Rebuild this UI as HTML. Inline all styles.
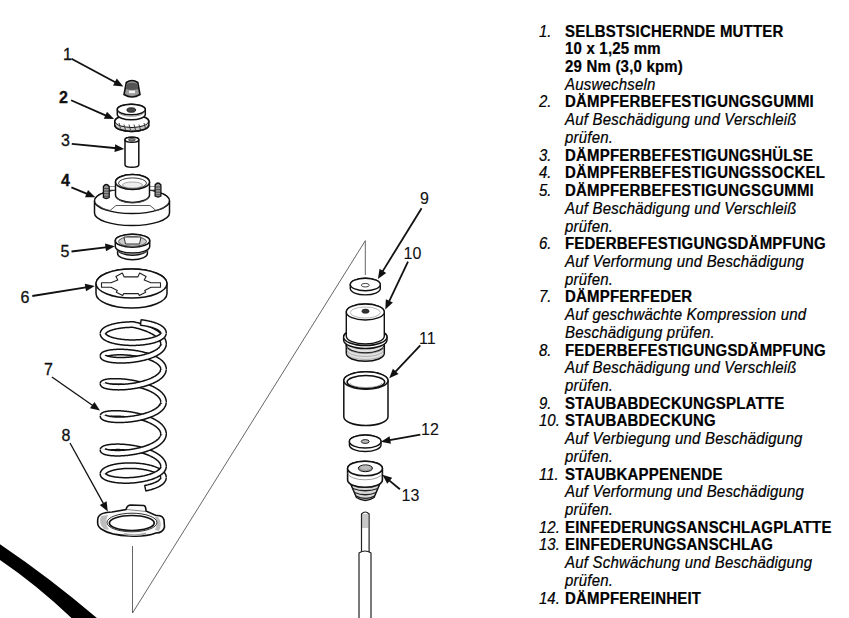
<!DOCTYPE html>
<html><head><meta charset="utf-8"><style>
html,body{margin:0;padding:0;background:#fff;}
body{width:849px;height:618px;position:relative;overflow:hidden;font-family:"Liberation Sans",sans-serif;}
svg{position:absolute;left:0;top:0;}
svg text{font-family:"Liberation Sans",sans-serif;}
#list{position:absolute;left:539px;top:22.6px;font-size:15px;line-height:17.72px;color:#000;-webkit-text-stroke:0.2px #000;}
.l{position:relative;height:17.72px;white-space:nowrap;padding-left:26px;transform:scaleY(1.04);transform-origin:0 14.06px;}
.n{position:absolute;left:0;top:0;font-style:italic;}
.b{font-weight:bold;letter-spacing:0.2px;}
.i{font-style:italic;letter-spacing:0.2px;}
</style></head><body>
<svg width="849" height="618" viewBox="0 0 849 618">
<path d="M0,544.2 Q50,578 96.9,618 L71.5,618 Q37,585 0,559.9 Z" fill="#000"/>
<path d="M365.3,275 L365.3,240.7 L132.5,613 L132.5,546" fill="none" stroke="#555" stroke-width="0.9"/>
<text x="63" y="60" font-size="16" font-weight="normal" fill="#111" stroke="#111" stroke-width="0.3">1</text>
<text x="59" y="103" font-size="16" font-weight="bold" fill="#111" stroke="#111" stroke-width="0.3">2</text>
<text x="61" y="146" font-size="16" font-weight="normal" fill="#111" stroke="#111" stroke-width="0.3">3</text>
<text x="61" y="185.6" font-size="16" font-weight="bold" fill="#111" stroke="#111" stroke-width="0.3">4</text>
<text x="60.5" y="256.8" font-size="16" font-weight="normal" fill="#111" stroke="#111" stroke-width="0.3">5</text>
<text x="20.5" y="303.4" font-size="16" font-weight="normal" fill="#111" stroke="#111" stroke-width="0.3">6</text>
<text x="44" y="375" font-size="16" font-weight="normal" fill="#111" stroke="#111" stroke-width="0.3">7</text>
<text x="61.5" y="441" font-size="16" font-weight="normal" fill="#111" stroke="#111" stroke-width="0.3">8</text>
<text x="420" y="204.3" font-size="16" font-weight="normal" fill="#111" stroke="#111" stroke-width="0.1">9</text>
<text x="403.5" y="258.6" font-size="16" font-weight="normal" fill="#111" stroke="#111" stroke-width="0.1">10</text>
<text x="419" y="344.4" font-size="16" font-weight="normal" fill="#111" stroke="#111" stroke-width="0.1">11</text>
<text x="421" y="435" font-size="16" font-weight="normal" fill="#111" stroke="#111" stroke-width="0.1">12</text>
<text x="401.5" y="501" font-size="16" font-weight="normal" fill="#111" stroke="#111" stroke-width="0.1">13</text>
<line x1="71.50" y1="58.80" x2="116.69" y2="82.96" stroke="#111" stroke-width="1.8"/>
<path d="M123.30,86.50 L113.08,85.46 L116.76,78.58 Z" fill="#111"/>
<line x1="71.10" y1="100.20" x2="107.23" y2="116.08" stroke="#111" stroke-width="1.8"/>
<path d="M114.10,119.10 L103.83,118.85 L106.97,111.71 Z" fill="#111"/>
<line x1="71.80" y1="143.90" x2="116.84" y2="148.27" stroke="#111" stroke-width="1.8"/>
<path d="M124.30,149.00 L114.47,151.96 L115.22,144.20 Z" fill="#111"/>
<line x1="71.40" y1="187.30" x2="88.37" y2="194.33" stroke="#111" stroke-width="1.8"/>
<path d="M95.30,197.20 L85.03,197.17 L88.02,189.96 Z" fill="#111"/>
<line x1="71.50" y1="251.50" x2="107.46" y2="247.11" stroke="#111" stroke-width="1.8"/>
<path d="M114.90,246.20 L105.94,251.22 L105.00,243.48 Z" fill="#111"/>
<line x1="32.30" y1="296.00" x2="87.39" y2="287.18" stroke="#111" stroke-width="1.8"/>
<path d="M94.80,286.00 L86.04,291.35 L84.80,283.65 Z" fill="#111"/>
<line x1="70.00" y1="443.00" x2="104.18" y2="504.93" stroke="#111" stroke-width="1.3"/>
<path d="M107.80,511.50 L99.80,505.07 L106.62,501.30 Z" fill="#111"/>
<line x1="421.60" y1="208.20" x2="381.84" y2="272.62" stroke="#111" stroke-width="1.8"/>
<path d="M377.90,279.00 L379.57,268.87 L386.21,272.96 Z" fill="#111"/>
<line x1="408.00" y1="261.60" x2="388.52" y2="302.63" stroke="#111" stroke-width="1.8"/>
<path d="M385.30,309.40 L385.85,299.15 L392.90,302.49 Z" fill="#111"/>
<line x1="420.30" y1="345.30" x2="394.34" y2="372.84" stroke="#111" stroke-width="1.8"/>
<path d="M389.20,378.30 L392.88,368.71 L398.55,374.06 Z" fill="#111"/>
<line x1="420.30" y1="434.60" x2="388.28" y2="440.37" stroke="#111" stroke-width="1.8"/>
<path d="M380.90,441.70 L389.56,436.18 L390.94,443.85 Z" fill="#111"/>
<line x1="399.90" y1="489.30" x2="388.18" y2="479.59" stroke="#111" stroke-width="1.8"/>
<path d="M382.40,474.80 L392.20,477.86 L387.23,483.86 Z" fill="#111"/>
<path d="M126.3,82.5 Q132,78.5 137.8,82.5 L140,94.5 Q132,99.5 124,94.5 Z" fill="#9a9a9a" stroke="#111" stroke-width="1.6"/>
<path d="M126.6,84 Q132,81.5 137.5,84 L138.3,89 Q132,91 125.8,89 Z" fill="#555"/>
<rect x="129" y="90.6" width="6" height="2.6" fill="#f2f2f2"/>
<path d="M114.80,121.50 L114.80,125.00 A17.00,6.40 0 0 0 148.80,125.00 L148.80,121.50 A17.00,6.40 0 0 0 114.80,121.50 Z" fill="#fff" stroke="#111" stroke-width="1.6"/>
<ellipse cx="131.80" cy="121.50" rx="17.00" ry="6.40" fill="#fff" stroke="#111" stroke-width="1.6"/>
<path d="M115.5,123 A16.5,5.8 0 0 0 148.1,123 L148.1,127 A16.5,5.8 0 0 1 115.5,127 Z" fill="#c8c8c8"/>
<line x1="119" y1="123.0" x2="120.5" y2="128.5" stroke="#333" stroke-width="0.9"/>
<line x1="124" y1="124.5" x2="125.5" y2="130" stroke="#333" stroke-width="0.9"/>
<line x1="129" y1="124.5" x2="130.5" y2="130" stroke="#333" stroke-width="0.9"/>
<line x1="134" y1="124.5" x2="135.5" y2="130" stroke="#333" stroke-width="0.9"/>
<line x1="139" y1="124.5" x2="140.5" y2="130" stroke="#333" stroke-width="0.9"/>
<line x1="144" y1="123.0" x2="145.5" y2="128.5" stroke="#333" stroke-width="0.9"/>
<path d="M114.80,125.00 A17.00,6.40 0 0 0 148.80,125.00" fill="none" stroke="#111" stroke-width="1.6"/>
<path d="M117.30,109.50 L117.30,114.50 A14.00,5.30 0 0 0 145.30,114.50 L145.30,109.50 A14.00,5.30 0 0 0 117.30,109.50 Z" fill="#fff" stroke="#111" stroke-width="1.5"/>
<ellipse cx="131.30" cy="109.50" rx="14.00" ry="5.30" fill="#fff" stroke="#111" stroke-width="1.5"/>
<path d="M118.30,111.50 A13.00,4.80 0 0 0 144.30,111.50" fill="none" stroke="#777" stroke-width="0.8"/>
<ellipse cx="131.30" cy="110.00" rx="4.40" ry="2.30" fill="#444" stroke="#111" stroke-width="0.8"/>
<path d="M125.00,139.80 L125.00,164.70 A6.90,2.50 0 0 0 138.80,164.70 L138.80,139.80 A6.90,2.50 0 0 0 125.00,139.80 Z" fill="#fff" stroke="#111" stroke-width="1.5"/>
<ellipse cx="131.90" cy="139.80" rx="6.90" ry="2.50" fill="#fff" stroke="#111" stroke-width="1.5"/>
<ellipse cx="131.90" cy="139.80" rx="3.50" ry="1.30" fill="#888" stroke="#111" stroke-width="0.6"/>
<path d="M94.50,201.00 L94.50,213.00 A37.50,12.50 0 0 0 169.50,213.00 L169.50,201.00 A37.50,12.50 0 0 0 94.50,201.00 Z" fill="#fff" stroke="#111" stroke-width="1.5"/>
<ellipse cx="132.00" cy="201.00" rx="37.50" ry="12.50" fill="#fff" stroke="#111" stroke-width="1.5"/>
<path d="M96,204 Q104,210 110,210.5 Q113,208 116,205.5 L150,205.5 Q153,208 156,210.5 Q162,210 168,204" fill="none" stroke="#444" stroke-width="0.9"/>
<rect x="108" y="186.5" width="50" height="3.5" fill="#fff" stroke="#666" stroke-width="0.7"/>
<path d="M115.50,182.00 L115.50,195.00 A17.00,7.50 0 0 0 149.50,195.00 L149.50,182.00 A17.00,7.50 0 0 0 115.50,182.00 Z" fill="#fff" stroke="#111" stroke-width="1.5"/>
<ellipse cx="132.50" cy="182.00" rx="17.00" ry="7.50" fill="#fff" stroke="#111" stroke-width="1.5"/>
<ellipse cx="132.50" cy="183.20" rx="14.00" ry="5.30" fill="none" stroke="#333" stroke-width="1.0"/>
<ellipse cx="132.50" cy="185.00" rx="10.00" ry="3.00" fill="#eee" stroke="#888" stroke-width="0.7"/>
<path d="M117.00,197.00 A15.50,6.00 0 0 0 148.00,197.00" fill="none" stroke="#555" stroke-width="0.8"/>
<path d="M103.39999999999999,186.5 Q106.3,182.5 109.2,186.5 L109.2,197.5 Q106.3,199.5 103.39999999999999,197.5 Z" fill="#999" stroke="#111" stroke-width="1.3"/>
<line x1="103.7" y1="188.5" x2="108.89999999999999" y2="188.5" stroke="#333" stroke-width="0.8"/>
<line x1="103.7" y1="191.1" x2="108.89999999999999" y2="191.1" stroke="#333" stroke-width="0.8"/>
<line x1="103.7" y1="193.7" x2="108.89999999999999" y2="193.7" stroke="#333" stroke-width="0.8"/>
<line x1="103.7" y1="196.3" x2="108.89999999999999" y2="196.3" stroke="#333" stroke-width="0.8"/>
<path d="M155.1,185 Q158,181 160.9,185 L160.9,196 Q158,198 155.1,196 Z" fill="#999" stroke="#111" stroke-width="1.3"/>
<line x1="155.4" y1="187.0" x2="160.6" y2="187.0" stroke="#333" stroke-width="0.8"/>
<line x1="155.4" y1="189.6" x2="160.6" y2="189.6" stroke="#333" stroke-width="0.8"/>
<line x1="155.4" y1="192.2" x2="160.6" y2="192.2" stroke="#333" stroke-width="0.8"/>
<line x1="155.4" y1="194.8" x2="160.6" y2="194.8" stroke="#333" stroke-width="0.8"/>
<path d="M117.60,249.00 L117.60,253.50 A14.90,6.20 0 0 0 147.40,253.50 L147.40,249.00 A14.90,6.20 0 0 0 117.60,249.00 Z" fill="#fff" stroke="#111" stroke-width="1.5"/>
<ellipse cx="132.50" cy="249.00" rx="14.90" ry="6.20" fill="#fff" stroke="#111" stroke-width="1.5"/>
<path d="M115.30,240.70 L115.30,246.50 A17.20,6.50 0 0 0 149.70,246.50 L149.70,240.70 A17.20,6.50 0 0 0 115.30,240.70 Z" fill="#fff" stroke="#111" stroke-width="1.5"/>
<ellipse cx="132.50" cy="240.70" rx="17.20" ry="6.50" fill="#fff" stroke="#111" stroke-width="1.5"/>
<ellipse cx="132.50" cy="241.50" rx="14.00" ry="4.80" fill="#ccc" stroke="#444" stroke-width="0.9"/>
<path d="M124,237 L141,237 L139.5,244 L125.5,244 Z" fill="#f4f4f4" stroke="#333" stroke-width="1"/>
<path d="M116.50,249.50 A16.00,4.50 0 0 0 148.50,249.50" fill="none" stroke="#666" stroke-width="0.8"/>
<path d="M96.00,283.50 L96.00,293.50 A35.50,14.50 0 0 0 167.00,293.50 L167.00,283.50 A35.50,14.50 0 0 0 96.00,283.50 Z" fill="#fff" stroke="#111" stroke-width="1.5"/>
<ellipse cx="131.50" cy="283.50" rx="35.50" ry="14.50" fill="#fff" stroke="#111" stroke-width="1.5"/>
<path d="M111.0,287.3 L101.5,287.3 L101.5,282.7 L111.0,282.7 L117.8,280.1 L115.9,276.4 L122.3,273.1 L124.2,276.9 L137.8,276.9 L139.7,273.1 L146.1,276.4 L144.2,280.1 L151.0,282.7 L160.5,282.7 L160.5,287.3 L151.0,287.3 L144.7,290.4 L145.7,292.3 L139.3,295.6 L138.3,293.6 L123.7,293.6 L122.7,295.6 L116.3,292.3 L117.3,290.4 Z" fill="#fff" stroke="#222" stroke-width="1.1" stroke-linejoin="round"/>
<path d="M103.00,333.53 L103.03,333.28 L103.07,333.03 L103.14,332.79 L103.23,332.54 L103.34,332.30 L103.47,332.06 L103.62,331.82 L103.80,331.58 L103.99,331.34 L104.21,331.10 L104.44,330.86 L104.70,330.63 L104.98,330.40 L105.28,330.17 L105.60,329.95 L105.94,329.72 L106.30,329.50 L106.67,329.28 L107.07,329.07 L107.49,328.86 L107.92,328.65 L108.37,328.45 L108.84,328.25 L109.33,328.05 L109.83,327.86 L110.36,327.67 L110.89,327.49 L111.45,327.31 L112.02,327.14 L112.60,326.97 L113.20,326.80 L113.82,326.64 L114.45,326.49 L115.09,326.34 L115.74,326.20 L116.41,326.06 L117.09,325.93 L117.78,325.80 L118.48,325.68 L119.20,325.56 L119.92,325.46 L120.65,325.35 L121.39,325.26 L122.14,325.17 L122.90,325.08 L123.67,325.00 L124.44,324.93 L125.22,324.87 L126.00,324.81 L126.79,324.76 L127.59,324.71 L128.39,324.67 L129.19,324.64 L129.99,324.61 L130.80,324.60 L131.61,324.58 L132.42,324.58 L133.23,324.58 L134.04,324.75 L134.85,324.93 L135.66,325.12 L136.47,325.31 L137.27,325.51 L138.07,325.72 L138.87,325.93 L139.67,326.15 L140.46,326.38 L141.24,326.61 L142.02,326.85 L142.79,327.10 L143.56,327.35 L144.32,327.61 L145.07,327.88 L145.81,328.15 L146.54,328.43 L147.27,328.71 L147.98,329.00 L148.68,329.30 L149.38,329.60 L150.06,329.91 L150.72,330.22 L151.38,330.54 L152.02,330.86 L152.65,331.19 L153.27,331.53 L153.87,331.87 L154.45,332.21 L155.02,332.56 L155.58,332.92 L156.12,333.28 L156.64,333.64 L157.15,334.01 L157.63,334.38 L158.10,334.76 L158.56,335.14 L158.99,335.52 L159.41,335.91 L159.81,336.30 L160.19,336.70 L160.55,337.09 L160.88,337.49 L161.20,337.90 L161.50,338.30 L161.78,338.71 L162.04,339.12 L162.28,339.53 L162.50,339.95 L162.69,340.36 L162.87,340.78 L163.02,341.20 L163.16,341.62 L163.27,342.04 L163.36,342.46 L163.43,342.89 L163.47,343.31 L163.50,343.73 L163.50,344.13" fill="none" stroke="#111" stroke-width="7.0"/>
<path d="M103.02,334.02 L103.00,333.53 L103.03,333.28 L103.07,333.03 L103.14,332.79 L103.23,332.54 L103.34,332.30 L103.47,332.06 L103.62,331.82 L103.80,331.58 L103.99,331.34 L104.21,331.10 L104.44,330.86 L104.70,330.63 L104.98,330.40 L105.28,330.17 L105.60,329.95 L105.94,329.72 L106.30,329.50 L106.67,329.28 L107.07,329.07 L107.49,328.86 L107.92,328.65 L108.37,328.45 L108.84,328.25 L109.33,328.05 L109.83,327.86 L110.36,327.67 L110.89,327.49 L111.45,327.31 L112.02,327.14 L112.60,326.97 L113.20,326.80 L113.82,326.64 L114.45,326.49 L115.09,326.34 L115.74,326.20 L116.41,326.06 L117.09,325.93 L117.78,325.80 L118.48,325.68 L119.20,325.56 L119.92,325.46 L120.65,325.35 L121.39,325.26 L122.14,325.17 L122.90,325.08 L123.67,325.00 L124.44,324.93 L125.22,324.87 L126.00,324.81 L126.79,324.76 L127.59,324.71 L128.39,324.67 L129.19,324.64 L129.99,324.61 L130.80,324.60 L131.61,324.58 L132.42,324.58 L133.23,324.58 L134.04,324.75 L134.85,324.93 L135.66,325.12 L136.47,325.31 L137.27,325.51 L138.07,325.72 L138.87,325.93 L139.67,326.15 L140.46,326.38 L141.24,326.61 L142.02,326.85 L142.79,327.10 L143.56,327.35 L144.32,327.61 L145.07,327.88 L145.81,328.15 L146.54,328.43 L147.27,328.71 L147.98,329.00 L148.68,329.30 L149.38,329.60 L150.06,329.91 L150.72,330.22 L151.38,330.54 L152.02,330.86 L152.65,331.19 L153.27,331.53 L153.87,331.87 L154.45,332.21 L155.02,332.56 L155.58,332.92 L156.12,333.28 L156.64,333.64 L157.15,334.01 L157.63,334.38 L158.10,334.76 L158.56,335.14 L158.99,335.52 L159.41,335.91 L159.81,336.30 L160.19,336.70 L160.55,337.09 L160.88,337.49 L161.20,337.90 L161.50,338.30 L161.78,338.71 L162.04,339.12 L162.28,339.53 L162.50,339.95 L162.69,340.36 L162.87,340.78 L163.02,341.20 L163.16,341.62 L163.27,342.04 L163.36,342.46 L163.43,342.89 L163.47,343.31 L163.50,343.73 L163.50,344.13 L163.44,344.84" fill="none" stroke="#fff" stroke-width="4.0"/>
<path d="M103.00,355.98 L103.01,355.83 L103.05,355.69 L103.11,355.54 L103.19,355.40 L103.29,355.26 L103.41,355.12 L103.56,354.98 L103.72,354.84 L103.91,354.70 L104.12,354.56 L104.35,354.43 L104.60,354.30 L104.87,354.17 L105.16,354.04 L105.47,353.92 L105.80,353.79 L106.15,353.67 L106.52,353.56 L106.91,353.44 L107.32,353.33 L107.74,353.23 L108.19,353.13 L108.65,353.03 L109.13,352.93 L109.63,352.84 L110.14,352.75 L110.68,352.67 L111.22,352.59 L111.79,352.52 L112.37,352.45 L112.96,352.39 L113.57,352.33 L114.19,352.28 L114.83,352.23 L115.48,352.19 L116.14,352.15 L116.81,352.12 L117.50,352.09 L118.20,352.07 L118.91,352.06 L119.63,352.05 L120.36,352.05 L121.09,352.06 L121.84,352.07 L122.60,352.08 L123.36,352.11 L124.13,352.14 L124.90,352.17 L125.69,352.22 L126.47,352.27 L127.27,352.32 L128.06,352.39 L128.86,352.46 L129.67,352.53 L130.47,352.62 L131.28,352.71 L132.09,352.80 L132.90,352.91 L133.71,353.02 L134.52,353.14 L135.33,353.26 L136.14,353.39 L136.95,353.53 L137.75,353.68 L138.55,353.83 L139.35,353.99 L140.14,354.15 L140.93,354.32 L141.71,354.50 L142.48,354.69 L143.25,354.88 L144.01,355.08 L144.77,355.28 L145.51,355.49 L146.25,355.71 L146.98,355.94 L147.70,356.16 L148.40,356.40 L149.10,356.64 L149.78,356.89 L150.46,357.14 L151.12,357.40 L151.76,357.67 L152.40,357.94 L153.02,358.21 L153.63,358.49 L154.22,358.78 L154.80,359.07 L155.36,359.36 L155.90,359.66 L156.43,359.97 L156.94,360.28 L157.44,360.59 L157.92,360.91 L158.38,361.23 L158.82,361.56 L159.24,361.89 L159.65,362.22 L160.04,362.56 L160.40,362.89 L160.75,363.24 L161.08,363.58 L161.39,363.93 L161.67,364.28 L161.94,364.63 L162.19,364.99 L162.41,365.35 L162.62,365.70 L162.80,366.07 L162.96,366.43 L163.11,366.79 L163.23,367.16 L163.32,367.52 L163.40,367.89 L163.46,368.25 L163.49,368.62 L163.50,368.99 L163.49,369.37" fill="none" stroke="#111" stroke-width="7.0"/>
<path d="M103.04,356.28 L103.00,355.98 L103.01,355.83 L103.05,355.69 L103.11,355.54 L103.19,355.40 L103.29,355.26 L103.41,355.12 L103.56,354.98 L103.72,354.84 L103.91,354.70 L104.12,354.56 L104.35,354.43 L104.60,354.30 L104.87,354.17 L105.16,354.04 L105.47,353.92 L105.80,353.79 L106.15,353.67 L106.52,353.56 L106.91,353.44 L107.32,353.33 L107.74,353.23 L108.19,353.13 L108.65,353.03 L109.13,352.93 L109.63,352.84 L110.14,352.75 L110.68,352.67 L111.22,352.59 L111.79,352.52 L112.37,352.45 L112.96,352.39 L113.57,352.33 L114.19,352.28 L114.83,352.23 L115.48,352.19 L116.14,352.15 L116.81,352.12 L117.50,352.09 L118.20,352.07 L118.91,352.06 L119.63,352.05 L120.36,352.05 L121.09,352.06 L121.84,352.07 L122.60,352.08 L123.36,352.11 L124.13,352.14 L124.90,352.17 L125.69,352.22 L126.47,352.27 L127.27,352.32 L128.06,352.39 L128.86,352.46 L129.67,352.53 L130.47,352.62 L131.28,352.71 L132.09,352.80 L132.90,352.91 L133.71,353.02 L134.52,353.14 L135.33,353.26 L136.14,353.39 L136.95,353.53 L137.75,353.68 L138.55,353.83 L139.35,353.99 L140.14,354.15 L140.93,354.32 L141.71,354.50 L142.48,354.69 L143.25,354.88 L144.01,355.08 L144.77,355.28 L145.51,355.49 L146.25,355.71 L146.98,355.94 L147.70,356.16 L148.40,356.40 L149.10,356.64 L149.78,356.89 L150.46,357.14 L151.12,357.40 L151.76,357.67 L152.40,357.94 L153.02,358.21 L153.63,358.49 L154.22,358.78 L154.80,359.07 L155.36,359.36 L155.90,359.66 L156.43,359.97 L156.94,360.28 L157.44,360.59 L157.92,360.91 L158.38,361.23 L158.82,361.56 L159.24,361.89 L159.65,362.22 L160.04,362.56 L160.40,362.89 L160.75,363.24 L161.08,363.58 L161.39,363.93 L161.67,364.28 L161.94,364.63 L162.19,364.99 L162.41,365.35 L162.62,365.70 L162.80,366.07 L162.96,366.43 L163.11,366.79 L163.23,367.16 L163.32,367.52 L163.40,367.89 L163.46,368.25 L163.49,368.62 L163.50,368.99 L163.49,369.37 L163.40,370.13" fill="none" stroke="#fff" stroke-width="4.0"/>
<path d="M103.01,383.62 L103.03,383.52 L103.08,383.42 L103.15,383.32 L103.25,383.22 L103.36,383.12 L103.50,383.02 L103.65,382.92 L103.83,382.82 L104.03,382.73 L104.25,382.64 L104.49,382.54 L104.76,382.46 L105.04,382.37 L105.34,382.29 L105.66,382.20 L106.01,382.13 L106.37,382.05 L106.75,381.98 L107.15,381.91 L107.57,381.84 L108.01,381.78 L108.46,381.72 L108.94,381.67 L109.43,381.62 L109.94,381.57 L110.46,381.53 L111.00,381.50 L111.56,381.46 L112.13,381.44 L112.72,381.41 L113.32,381.40 L113.94,381.38 L114.57,381.38 L115.22,381.38 L115.87,381.38 L116.54,381.39 L117.22,381.41 L117.92,381.43 L118.62,381.45 L119.34,381.49 L120.06,381.53 L120.80,381.57 L121.54,381.63 L122.29,381.68 L123.05,381.75 L123.82,381.82 L124.59,381.90 L125.37,381.98 L126.16,382.08 L126.95,382.17 L127.74,382.28 L128.54,382.39 L129.34,382.51 L130.15,382.63 L130.96,382.77 L131.77,382.91 L132.58,383.05 L133.39,383.21 L134.20,383.37 L135.01,383.53 L135.82,383.71 L136.62,383.89 L137.43,384.08 L138.23,384.27 L139.03,384.47 L139.82,384.68 L140.61,384.90 L141.40,385.12 L142.17,385.35 L142.94,385.58 L143.71,385.83 L144.47,386.07 L145.21,386.33 L145.96,386.59 L146.69,386.86 L147.41,387.13 L148.12,387.41 L148.82,387.70 L149.51,387.99 L150.19,388.29 L150.85,388.59 L151.51,388.90 L152.15,389.22 L152.77,389.54 L153.38,389.86 L153.98,390.20 L154.57,390.53 L155.13,390.87 L155.68,391.22 L156.22,391.57 L156.74,391.93 L157.24,392.28 L157.73,392.65 L158.20,393.02 L158.64,393.39 L159.08,393.76 L159.49,394.14 L159.88,394.53 L160.26,394.91 L160.61,395.30 L160.95,395.69 L161.27,396.09 L161.56,396.49 L161.84,396.89 L162.09,397.29 L162.33,397.70 L162.54,398.10 L162.73,398.51 L162.90,398.92 L163.05,399.33 L163.18,399.75 L163.29,400.16 L163.37,400.57 L163.44,400.99 L163.48,401.40 L163.50,401.82 L163.50,402.22" fill="none" stroke="#111" stroke-width="7.0"/>
<path d="M103.02,383.86 L103.01,383.62 L103.03,383.52 L103.08,383.42 L103.15,383.32 L103.25,383.22 L103.36,383.12 L103.50,383.02 L103.65,382.92 L103.83,382.82 L104.03,382.73 L104.25,382.64 L104.49,382.54 L104.76,382.46 L105.04,382.37 L105.34,382.29 L105.66,382.20 L106.01,382.13 L106.37,382.05 L106.75,381.98 L107.15,381.91 L107.57,381.84 L108.01,381.78 L108.46,381.72 L108.94,381.67 L109.43,381.62 L109.94,381.57 L110.46,381.53 L111.00,381.50 L111.56,381.46 L112.13,381.44 L112.72,381.41 L113.32,381.40 L113.94,381.38 L114.57,381.38 L115.22,381.38 L115.87,381.38 L116.54,381.39 L117.22,381.41 L117.92,381.43 L118.62,381.45 L119.34,381.49 L120.06,381.53 L120.80,381.57 L121.54,381.63 L122.29,381.68 L123.05,381.75 L123.82,381.82 L124.59,381.90 L125.37,381.98 L126.16,382.08 L126.95,382.17 L127.74,382.28 L128.54,382.39 L129.34,382.51 L130.15,382.63 L130.96,382.77 L131.77,382.91 L132.58,383.05 L133.39,383.21 L134.20,383.37 L135.01,383.53 L135.82,383.71 L136.62,383.89 L137.43,384.08 L138.23,384.27 L139.03,384.47 L139.82,384.68 L140.61,384.90 L141.40,385.12 L142.17,385.35 L142.94,385.58 L143.71,385.83 L144.47,386.07 L145.21,386.33 L145.96,386.59 L146.69,386.86 L147.41,387.13 L148.12,387.41 L148.82,387.70 L149.51,387.99 L150.19,388.29 L150.85,388.59 L151.51,388.90 L152.15,389.22 L152.77,389.54 L153.38,389.86 L153.98,390.20 L154.57,390.53 L155.13,390.87 L155.68,391.22 L156.22,391.57 L156.74,391.93 L157.24,392.28 L157.73,392.65 L158.20,393.02 L158.64,393.39 L159.08,393.76 L159.49,394.14 L159.88,394.53 L160.26,394.91 L160.61,395.30 L160.95,395.69 L161.27,396.09 L161.56,396.49 L161.84,396.89 L162.09,397.29 L162.33,397.70 L162.54,398.10 L162.73,398.51 L162.90,398.92 L163.05,399.33 L163.18,399.75 L163.29,400.16 L163.37,400.57 L163.44,400.99 L163.48,401.40 L163.50,401.82 L163.50,402.22 L163.43,402.97" fill="none" stroke="#fff" stroke-width="4.0"/>
<path d="M103.00,415.96 L103.02,415.85 L103.06,415.74 L103.12,415.63 L103.21,415.53 L103.31,415.42 L103.44,415.31 L103.59,415.21 L103.76,415.11 L103.95,415.00 L104.16,414.90 L104.39,414.80 L104.65,414.71 L104.92,414.61 L105.22,414.52 L105.53,414.43 L105.87,414.35 L106.22,414.27 L106.59,414.19 L106.99,414.11 L107.40,414.04 L107.83,413.97 L108.28,413.90 L108.74,413.84 L109.23,413.78 L109.73,413.73 L110.25,413.68 L110.78,413.63 L111.33,413.59 L111.90,413.56 L112.48,413.53 L113.08,413.50 L113.69,413.48 L114.32,413.47 L114.95,413.46 L115.61,413.46 L116.27,413.46 L116.95,413.47 L117.64,413.48 L118.34,413.50 L119.05,413.53 L119.77,413.56 L120.50,413.60 L121.24,413.64 L121.99,413.69 L122.74,413.75 L123.51,413.81 L124.28,413.89 L125.06,413.96 L125.84,414.05 L126.63,414.14 L127.42,414.24 L128.22,414.34 L129.02,414.45 L129.83,414.57 L130.63,414.70 L131.44,414.83 L132.25,414.97 L133.06,415.12 L133.87,415.27 L134.68,415.43 L135.49,415.60 L136.30,415.78 L137.11,415.96 L137.91,416.15 L138.71,416.35 L139.50,416.55 L140.29,416.76 L141.08,416.98 L141.86,417.20 L142.64,417.43 L143.40,417.67 L144.16,417.91 L144.91,418.16 L145.66,418.42 L146.39,418.68 L147.12,418.95 L147.83,419.23 L148.54,419.51 L149.23,419.80 L149.92,420.09 L150.59,420.39 L151.25,420.70 L151.89,421.01 L152.52,421.32 L153.14,421.65 L153.74,421.98 L154.33,422.31 L154.91,422.65 L155.47,422.99 L156.01,423.34 L156.53,423.69 L157.04,424.05 L157.53,424.41 L158.01,424.77 L158.47,425.14 L158.91,425.52 L159.33,425.90 L159.73,426.28 L160.11,426.66 L160.47,427.05 L160.82,427.44 L161.14,427.83 L161.44,428.23 L161.73,428.63 L161.99,429.03 L162.23,429.43 L162.46,429.84 L162.66,430.25 L162.84,430.66 L162.99,431.07 L163.13,431.48 L163.25,431.89 L163.34,432.31 L163.41,432.72 L163.46,433.14 L163.49,433.55 L163.50,433.97" fill="none" stroke="#111" stroke-width="7.0"/>
<path d="M103.03,416.23 L103.00,415.96 L103.02,415.85 L103.06,415.74 L103.12,415.63 L103.21,415.53 L103.31,415.42 L103.44,415.31 L103.59,415.21 L103.76,415.11 L103.95,415.00 L104.16,414.90 L104.39,414.80 L104.65,414.71 L104.92,414.61 L105.22,414.52 L105.53,414.43 L105.87,414.35 L106.22,414.27 L106.59,414.19 L106.99,414.11 L107.40,414.04 L107.83,413.97 L108.28,413.90 L108.74,413.84 L109.23,413.78 L109.73,413.73 L110.25,413.68 L110.78,413.63 L111.33,413.59 L111.90,413.56 L112.48,413.53 L113.08,413.50 L113.69,413.48 L114.32,413.47 L114.95,413.46 L115.61,413.46 L116.27,413.46 L116.95,413.47 L117.64,413.48 L118.34,413.50 L119.05,413.53 L119.77,413.56 L120.50,413.60 L121.24,413.64 L121.99,413.69 L122.74,413.75 L123.51,413.81 L124.28,413.89 L125.06,413.96 L125.84,414.05 L126.63,414.14 L127.42,414.24 L128.22,414.34 L129.02,414.45 L129.83,414.57 L130.63,414.70 L131.44,414.83 L132.25,414.97 L133.06,415.12 L133.87,415.27 L134.68,415.43 L135.49,415.60 L136.30,415.78 L137.11,415.96 L137.91,416.15 L138.71,416.35 L139.50,416.55 L140.29,416.76 L141.08,416.98 L141.86,417.20 L142.64,417.43 L143.40,417.67 L144.16,417.91 L144.91,418.16 L145.66,418.42 L146.39,418.68 L147.12,418.95 L147.83,419.23 L148.54,419.51 L149.23,419.80 L149.92,420.09 L150.59,420.39 L151.25,420.70 L151.89,421.01 L152.52,421.32 L153.14,421.65 L153.74,421.98 L154.33,422.31 L154.91,422.65 L155.47,422.99 L156.01,423.34 L156.53,423.69 L157.04,424.05 L157.53,424.41 L158.01,424.77 L158.47,425.14 L158.91,425.52 L159.33,425.90 L159.73,426.28 L160.11,426.66 L160.47,427.05 L160.82,427.44 L161.14,427.83 L161.44,428.23 L161.73,428.63 L161.99,429.03 L162.23,429.43 L162.46,429.84 L162.66,430.25 L162.84,430.66 L162.99,431.07 L163.13,431.48 L163.25,431.89 L163.34,432.31 L163.41,432.72 L163.46,433.14 L163.49,433.55 L163.50,433.97 L163.45,434.77" fill="none" stroke="#fff" stroke-width="4.0"/>
<path d="M103.01,449.88 L103.04,449.75 L103.10,449.63 L103.17,449.50 L103.27,449.38 L103.39,449.25 L103.53,449.13 L103.69,449.01 L103.87,448.89 L104.07,448.77 L104.30,448.66 L104.54,448.54 L104.81,448.43 L105.10,448.32 L105.40,448.22 L105.73,448.11 L106.08,448.01 L106.44,447.91 L106.83,447.82 L107.23,447.73 L107.65,447.64 L108.09,447.56 L108.55,447.48 L109.03,447.40 L109.53,447.33 L110.04,447.26 L110.57,447.20 L111.11,447.14 L111.67,447.09 L112.25,447.04 L112.84,447.00 L113.44,446.96 L114.06,446.93 L114.70,446.90 L115.34,446.88 L116.00,446.86 L116.68,446.85 L117.36,446.85 L118.05,446.85 L118.76,446.86 L119.48,446.87 L120.21,446.89 L120.94,446.92 L121.69,446.96 L122.44,447.00 L123.20,447.04 L123.97,447.10 L124.74,447.16 L125.53,447.22 L126.31,447.30 L127.10,447.38 L127.90,447.47 L128.70,447.56 L129.50,447.66 L130.31,447.77 L131.12,447.89 L131.93,448.01 L132.74,448.14 L133.55,448.28 L134.36,448.43 L135.17,448.58 L135.98,448.74 L136.78,448.90 L137.59,449.08 L138.39,449.26 L139.18,449.44 L139.98,449.64 L140.77,449.84 L141.55,450.05 L142.32,450.26 L143.09,450.48 L143.86,450.71 L144.61,450.95 L145.36,451.19 L146.10,451.44 L146.83,451.69 L147.55,451.95 L148.26,452.22 L148.96,452.49 L149.64,452.77 L150.32,453.06 L150.98,453.35 L151.63,453.65 L152.27,453.95 L152.89,454.26 L153.50,454.58 L154.10,454.90 L154.68,455.22 L155.24,455.55 L155.79,455.89 L156.32,456.23 L156.84,456.57 L157.34,456.92 L157.82,457.27 L158.28,457.63 L158.73,457.99 L159.16,458.35 L159.57,458.72 L159.96,459.10 L160.33,459.47 L160.68,459.85 L161.01,460.23 L161.32,460.62 L161.62,461.01 L161.89,461.40 L162.14,461.79 L162.37,462.18 L162.58,462.58 L162.77,462.98 L162.93,463.38 L163.08,463.78 L163.20,464.18 L163.31,464.58 L163.39,464.99 L163.45,465.39 L163.48,465.80 L163.50,466.21 L163.49,466.55" fill="none" stroke="#111" stroke-width="7.0"/>
<path d="M103.01,450.13 L103.01,449.88 L103.04,449.75 L103.10,449.63 L103.17,449.50 L103.27,449.38 L103.39,449.25 L103.53,449.13 L103.69,449.01 L103.87,448.89 L104.07,448.77 L104.30,448.66 L104.54,448.54 L104.81,448.43 L105.10,448.32 L105.40,448.22 L105.73,448.11 L106.08,448.01 L106.44,447.91 L106.83,447.82 L107.23,447.73 L107.65,447.64 L108.09,447.56 L108.55,447.48 L109.03,447.40 L109.53,447.33 L110.04,447.26 L110.57,447.20 L111.11,447.14 L111.67,447.09 L112.25,447.04 L112.84,447.00 L113.44,446.96 L114.06,446.93 L114.70,446.90 L115.34,446.88 L116.00,446.86 L116.68,446.85 L117.36,446.85 L118.05,446.85 L118.76,446.86 L119.48,446.87 L120.21,446.89 L120.94,446.92 L121.69,446.96 L122.44,447.00 L123.20,447.04 L123.97,447.10 L124.74,447.16 L125.53,447.22 L126.31,447.30 L127.10,447.38 L127.90,447.47 L128.70,447.56 L129.50,447.66 L130.31,447.77 L131.12,447.89 L131.93,448.01 L132.74,448.14 L133.55,448.28 L134.36,448.43 L135.17,448.58 L135.98,448.74 L136.78,448.90 L137.59,449.08 L138.39,449.26 L139.18,449.44 L139.98,449.64 L140.77,449.84 L141.55,450.05 L142.32,450.26 L143.09,450.48 L143.86,450.71 L144.61,450.95 L145.36,451.19 L146.10,451.44 L146.83,451.69 L147.55,451.95 L148.26,452.22 L148.96,452.49 L149.64,452.77 L150.32,453.06 L150.98,453.35 L151.63,453.65 L152.27,453.95 L152.89,454.26 L153.50,454.58 L154.10,454.90 L154.68,455.22 L155.24,455.55 L155.79,455.89 L156.32,456.23 L156.84,456.57 L157.34,456.92 L157.82,457.27 L158.28,457.63 L158.73,457.99 L159.16,458.35 L159.57,458.72 L159.96,459.10 L160.33,459.47 L160.68,459.85 L161.01,460.23 L161.32,460.62 L161.62,461.01 L161.89,461.40 L162.14,461.79 L162.37,462.18 L162.58,462.58 L162.77,462.98 L162.93,463.38 L163.08,463.78 L163.20,464.18 L163.31,464.58 L163.39,464.99 L163.45,465.39 L163.48,465.80 L163.50,466.21 L163.49,466.55 L163.42,467.22" fill="none" stroke="#fff" stroke-width="4.0"/>
<path d="M103.00,473.87 L103.03,473.63 L103.07,473.39 L103.14,473.15 L103.23,472.91 L103.34,472.68 L103.47,472.44 L103.62,472.21 L103.79,471.98 L103.99,471.74 L104.21,471.52 L104.44,471.29 L104.70,471.06 L104.98,470.84 L105.28,470.62 L105.60,470.40 L105.93,470.19 L106.29,469.98 L106.67,469.77 L107.07,469.56 L107.48,469.36 L107.91,469.17 L108.37,468.97 L108.84,468.78 L109.32,468.60 L109.83,468.42 L110.35,468.24 L110.89,468.07 L111.44,467.90 L112.01,467.74 L112.60,467.58 L113.20,467.43 L113.81,467.29 L114.44,467.15 L115.08,467.01 L115.74,466.88 L116.40,466.76 L117.08,466.64 L117.77,466.53 L118.48,466.42 L119.19,466.33 L119.91,466.23 L120.64,466.15 L121.39,466.07 L122.14,465.99 L122.89,465.93 L123.66,465.87 L124.43,465.82 L125.21,465.77 L126.00,465.73 L126.78,465.70 L127.58,465.68 L128.38,465.66 L129.18,465.65 L129.98,465.64 L130.79,465.65 L131.60,465.66 L132.41,465.68 L133.22,465.70 L134.03,465.74 L134.84,465.78 L135.65,465.82 L136.46,465.88 L137.26,465.94 L138.07,466.01 L138.86,466.08 L139.66,466.17 L140.45,466.26 L141.23,466.35 L142.01,466.46 L142.79,466.57 L143.55,466.69 L144.31,466.81 L145.06,466.94 L145.80,467.08 L146.54,467.22 L147.26,467.37 L147.97,467.53 L148.68,467.70 L149.37,467.87 L150.05,468.04 L150.72,468.22 L151.37,468.41 L152.02,468.61 L152.64,468.81 L153.26,469.01 L153.86,469.22 L154.45,469.44 L155.02,469.66 L155.57,469.88 L156.11,470.12 L156.63,470.35 L157.14,470.59 L157.63,470.84 L158.10,471.09 L158.55,471.34 L158.99,471.60 L159.41,471.86 L159.80,472.12 L160.18,472.39 L160.54,472.66 L160.88,472.94 L161.20,473.21 L161.50,473.49 L161.78,473.78 L162.04,474.06 L162.28,474.35 L162.50,474.64 L162.69,474.93 L162.87,475.22 L163.02,475.52 L163.16,475.82 L163.27,476.11 L163.36,476.41 L163.42,476.71 L163.47,477.01 L163.50,477.31 L163.50,477.61" fill="none" stroke="#111" stroke-width="7.0"/>
<path d="M103.02,474.29 L103.00,473.87 L103.03,473.63 L103.07,473.39 L103.14,473.15 L103.23,472.91 L103.34,472.68 L103.47,472.44 L103.62,472.21 L103.79,471.98 L103.99,471.74 L104.21,471.52 L104.44,471.29 L104.70,471.06 L104.98,470.84 L105.28,470.62 L105.60,470.40 L105.93,470.19 L106.29,469.98 L106.67,469.77 L107.07,469.56 L107.48,469.36 L107.91,469.17 L108.37,468.97 L108.84,468.78 L109.32,468.60 L109.83,468.42 L110.35,468.24 L110.89,468.07 L111.44,467.90 L112.01,467.74 L112.60,467.58 L113.20,467.43 L113.81,467.29 L114.44,467.15 L115.08,467.01 L115.74,466.88 L116.40,466.76 L117.08,466.64 L117.77,466.53 L118.48,466.42 L119.19,466.33 L119.91,466.23 L120.64,466.15 L121.39,466.07 L122.14,465.99 L122.89,465.93 L123.66,465.87 L124.43,465.82 L125.21,465.77 L126.00,465.73 L126.78,465.70 L127.58,465.68 L128.38,465.66 L129.18,465.65 L129.98,465.64 L130.79,465.65 L131.60,465.66 L132.41,465.68 L133.22,465.70 L134.03,465.74 L134.84,465.78 L135.65,465.82 L136.46,465.88 L137.26,465.94 L138.07,466.01 L138.86,466.08 L139.66,466.17 L140.45,466.26 L141.23,466.35 L142.01,466.46 L142.79,466.57 L143.55,466.69 L144.31,466.81 L145.06,466.94 L145.80,467.08 L146.54,467.22 L147.26,467.37 L147.97,467.53 L148.68,467.70 L149.37,467.87 L150.05,468.04 L150.72,468.22 L151.37,468.41 L152.02,468.61 L152.64,468.81 L153.26,469.01 L153.86,469.22 L154.45,469.44 L155.02,469.66 L155.57,469.88 L156.11,470.12 L156.63,470.35 L157.14,470.59 L157.63,470.84 L158.10,471.09 L158.55,471.34 L158.99,471.60 L159.41,471.86 L159.80,472.12 L160.18,472.39 L160.54,472.66 L160.88,472.94 L161.20,473.21 L161.50,473.49 L161.78,473.78 L162.04,474.06 L162.28,474.35 L162.50,474.64 L162.69,474.93 L162.87,475.22 L163.02,475.52 L163.16,475.82 L163.27,476.11 L163.36,476.41 L163.42,476.71 L163.47,477.01 L163.50,477.31 L163.50,477.61 L163.44,478.21" fill="none" stroke="#fff" stroke-width="4.0"/>
<path d="M163.49,333.20 L163.47,333.45 L163.42,333.71 L163.35,333.96 L163.25,334.22 L163.14,334.47 L163.00,334.72 L162.85,334.97 L162.67,335.22 L162.47,335.47 L162.25,335.72 L162.01,335.96 L161.74,336.21 L161.46,336.45 L161.16,336.69 L160.84,336.92 L160.49,337.15 L160.13,337.38 L159.75,337.61 L159.35,337.83 L158.93,338.05 L158.49,338.27 L158.04,338.48 L157.56,338.69 L157.07,338.90 L156.56,339.10 L156.04,339.30 L155.50,339.49 L154.94,339.68 L154.37,339.86 L153.78,340.04 L153.17,340.21 L152.56,340.38 L151.93,340.54 L151.28,340.70 L150.62,340.85 L149.95,341.00 L149.27,341.14 L148.58,341.28 L147.87,341.41 L147.16,341.53 L146.43,341.65 L145.70,341.76 L144.96,341.87 L144.21,341.97 L143.45,342.06 L142.68,342.15 L141.90,342.23 L141.12,342.31 L140.34,342.38 L139.55,342.44 L138.75,342.49 L137.95,342.54 L137.15,342.58 L136.35,342.62 L135.54,342.65 L134.73,342.67 L133.92,342.68 L133.11,342.69 L132.30,342.69 L131.49,342.69 L130.68,342.68 L129.87,342.66 L129.07,342.63 L128.27,342.60 L127.47,342.56 L126.67,342.52 L125.89,342.47 L125.10,342.41 L124.32,342.34 L123.55,342.27 L122.79,342.19 L122.03,342.11 L121.28,342.02 L120.54,341.92 L119.81,341.82 L119.09,341.71 L118.38,341.60 L117.68,341.48 L116.99,341.35 L116.31,341.22 L115.64,341.08 L114.99,340.94 L114.35,340.79 L113.72,340.64 L113.11,340.48 L112.51,340.32 L111.93,340.15 L111.36,339.98 L110.81,339.80 L110.28,339.62 L109.76,339.43 L109.26,339.24 L108.77,339.04 L108.30,338.84 L107.85,338.64 L107.42,338.43 L107.01,338.22 L106.62,338.01 L106.24,337.79 L105.88,337.57 L105.55,337.35 L105.23,337.12 L104.94,336.89 L104.66,336.66 L104.41,336.43 L104.17,336.20 L103.96,335.96 L103.77,335.72 L103.60,335.48 L103.45,335.24 L103.32,335.00 L103.21,334.75 L103.13,334.51 L103.06,334.26 L103.02,334.02 L103.00,333.77 L103.00,333.53" fill="none" stroke="#111" stroke-width="7.0"/>
<path d="M163.48,332.66 L163.49,333.20 L163.47,333.45 L163.42,333.71 L163.35,333.96 L163.25,334.22 L163.14,334.47 L163.00,334.72 L162.85,334.97 L162.67,335.22 L162.47,335.47 L162.25,335.72 L162.01,335.96 L161.74,336.21 L161.46,336.45 L161.16,336.69 L160.84,336.92 L160.49,337.15 L160.13,337.38 L159.75,337.61 L159.35,337.83 L158.93,338.05 L158.49,338.27 L158.04,338.48 L157.56,338.69 L157.07,338.90 L156.56,339.10 L156.04,339.30 L155.50,339.49 L154.94,339.68 L154.37,339.86 L153.78,340.04 L153.17,340.21 L152.56,340.38 L151.93,340.54 L151.28,340.70 L150.62,340.85 L149.95,341.00 L149.27,341.14 L148.58,341.28 L147.87,341.41 L147.16,341.53 L146.43,341.65 L145.70,341.76 L144.96,341.87 L144.21,341.97 L143.45,342.06 L142.68,342.15 L141.90,342.23 L141.12,342.31 L140.34,342.38 L139.55,342.44 L138.75,342.49 L137.95,342.54 L137.15,342.58 L136.35,342.62 L135.54,342.65 L134.73,342.67 L133.92,342.68 L133.11,342.69 L132.30,342.69 L131.49,342.69 L130.68,342.68 L129.87,342.66 L129.07,342.63 L128.27,342.60 L127.47,342.56 L126.67,342.52 L125.89,342.47 L125.10,342.41 L124.32,342.34 L123.55,342.27 L122.79,342.19 L122.03,342.11 L121.28,342.02 L120.54,341.92 L119.81,341.82 L119.09,341.71 L118.38,341.60 L117.68,341.48 L116.99,341.35 L116.31,341.22 L115.64,341.08 L114.99,340.94 L114.35,340.79 L113.72,340.64 L113.11,340.48 L112.51,340.32 L111.93,340.15 L111.36,339.98 L110.81,339.80 L110.28,339.62 L109.76,339.43 L109.26,339.24 L108.77,339.04 L108.30,338.84 L107.85,338.64 L107.42,338.43 L107.01,338.22 L106.62,338.01 L106.24,337.79 L105.88,337.57 L105.55,337.35 L105.23,337.12 L104.94,336.89 L104.66,336.66 L104.41,336.43 L104.17,336.20 L103.96,335.96 L103.77,335.72 L103.60,335.48 L103.45,335.24 L103.32,335.00 L103.21,334.75 L103.13,334.51 L103.06,334.26 L103.02,334.02 L103.00,333.77 L103.00,333.53 L103.07,333.03" fill="none" stroke="#fff" stroke-width="4.0"/>
<path d="M163.50,344.13 L163.48,344.49 L163.44,344.84 L163.38,345.20 L163.29,345.55 L163.19,345.91 L163.06,346.26 L162.91,346.61 L162.74,346.96 L162.55,347.31 L162.34,347.66 L162.11,348.00 L161.85,348.35 L161.58,348.69 L161.28,349.03 L160.97,349.36 L160.63,349.70 L160.28,350.03 L159.90,350.35 L159.51,350.68 L159.10,351.00 L158.67,351.32 L158.22,351.63 L157.75,351.94 L157.27,352.25 L156.77,352.55 L156.25,352.85 L155.72,353.14 L155.16,353.43 L154.60,353.71 L154.02,353.99 L153.42,354.27 L152.81,354.54 L152.18,354.80 L151.54,355.06 L150.89,355.32 L150.23,355.56 L149.55,355.81 L148.86,356.04 L148.16,356.27 L147.45,356.50 L146.73,356.72 L146.00,356.93 L145.26,357.14 L144.51,357.34 L143.75,357.53 L142.99,357.72 L142.22,357.90 L141.44,358.08 L140.66,358.24 L139.87,358.41 L139.07,358.56 L138.28,358.71 L137.47,358.85 L136.67,358.99 L135.86,359.12 L135.05,359.24 L134.24,359.35 L133.43,359.46 L132.62,359.56 L131.81,359.65 L131.00,359.74 L130.20,359.82 L129.39,359.90 L128.59,359.96 L127.79,360.02 L126.99,360.08 L126.20,360.12 L125.42,360.16 L124.64,360.20 L123.86,360.23 L123.09,360.25 L122.33,360.26 L121.58,360.27 L120.84,360.27 L120.10,360.27 L119.38,360.25 L118.66,360.24 L117.96,360.22 L117.26,360.19 L116.58,360.15 L115.91,360.11 L115.25,360.07 L114.61,360.01 L113.97,359.96 L113.36,359.90 L112.75,359.83 L112.16,359.76 L111.59,359.68 L111.03,359.60 L110.49,359.51 L109.96,359.42 L109.46,359.32 L108.96,359.22 L108.49,359.12 L108.03,359.01 L107.59,358.90 L107.17,358.79 L106.77,358.67 L106.39,358.55 L106.03,358.42 L105.68,358.29 L105.36,358.16 L105.05,358.03 L104.77,357.89 L104.51,357.75 L104.27,357.61 L104.04,357.47 L103.84,357.33 L103.66,357.18 L103.51,357.03 L103.37,356.88 L103.25,356.73 L103.16,356.58 L103.09,356.43 L103.04,356.28 L103.01,356.13 L103.00,355.98" fill="none" stroke="#111" stroke-width="7.0"/>
<path d="M163.47,343.31 L163.50,344.13 L163.48,344.49 L163.44,344.84 L163.38,345.20 L163.29,345.55 L163.19,345.91 L163.06,346.26 L162.91,346.61 L162.74,346.96 L162.55,347.31 L162.34,347.66 L162.11,348.00 L161.85,348.35 L161.58,348.69 L161.28,349.03 L160.97,349.36 L160.63,349.70 L160.28,350.03 L159.90,350.35 L159.51,350.68 L159.10,351.00 L158.67,351.32 L158.22,351.63 L157.75,351.94 L157.27,352.25 L156.77,352.55 L156.25,352.85 L155.72,353.14 L155.16,353.43 L154.60,353.71 L154.02,353.99 L153.42,354.27 L152.81,354.54 L152.18,354.80 L151.54,355.06 L150.89,355.32 L150.23,355.56 L149.55,355.81 L148.86,356.04 L148.16,356.27 L147.45,356.50 L146.73,356.72 L146.00,356.93 L145.26,357.14 L144.51,357.34 L143.75,357.53 L142.99,357.72 L142.22,357.90 L141.44,358.08 L140.66,358.24 L139.87,358.41 L139.07,358.56 L138.28,358.71 L137.47,358.85 L136.67,358.99 L135.86,359.12 L135.05,359.24 L134.24,359.35 L133.43,359.46 L132.62,359.56 L131.81,359.65 L131.00,359.74 L130.20,359.82 L129.39,359.90 L128.59,359.96 L127.79,360.02 L126.99,360.08 L126.20,360.12 L125.42,360.16 L124.64,360.20 L123.86,360.23 L123.09,360.25 L122.33,360.26 L121.58,360.27 L120.84,360.27 L120.10,360.27 L119.38,360.25 L118.66,360.24 L117.96,360.22 L117.26,360.19 L116.58,360.15 L115.91,360.11 L115.25,360.07 L114.61,360.01 L113.97,359.96 L113.36,359.90 L112.75,359.83 L112.16,359.76 L111.59,359.68 L111.03,359.60 L110.49,359.51 L109.96,359.42 L109.46,359.32 L108.96,359.22 L108.49,359.12 L108.03,359.01 L107.59,358.90 L107.17,358.79 L106.77,358.67 L106.39,358.55 L106.03,358.42 L105.68,358.29 L105.36,358.16 L105.05,358.03 L104.77,357.89 L104.51,357.75 L104.27,357.61 L104.04,357.47 L103.84,357.33 L103.66,357.18 L103.51,357.03 L103.37,356.88 L103.25,356.73 L103.16,356.58 L103.09,356.43 L103.04,356.28 L103.01,356.13 L103.00,355.98 L103.05,355.69" fill="none" stroke="#fff" stroke-width="4.0"/>
<path d="M163.49,369.37 L163.46,369.75 L163.40,370.13 L163.33,370.52 L163.23,370.90 L163.11,371.28 L162.97,371.65 L162.81,372.03 L162.63,372.41 L162.43,372.78 L162.20,373.15 L161.96,373.52 L161.69,373.89 L161.40,374.26 L161.10,374.62 L160.77,374.98 L160.42,375.34 L160.06,375.70 L159.67,376.05 L159.27,376.40 L158.84,376.74 L158.40,377.08 L157.94,377.42 L157.47,377.75 L156.97,378.08 L156.46,378.41 L155.93,378.73 L155.39,379.04 L154.83,379.36 L154.25,379.66 L153.66,379.96 L153.05,380.26 L152.43,380.55 L151.80,380.84 L151.15,381.12 L150.49,381.40 L149.82,381.67 L149.14,381.93 L148.44,382.19 L147.74,382.44 L147.02,382.69 L146.29,382.93 L145.56,383.16 L144.81,383.39 L144.06,383.61 L143.30,383.82 L142.53,384.03 L141.75,384.23 L140.97,384.43 L140.18,384.62 L139.39,384.80 L138.60,384.97 L137.80,385.14 L136.99,385.30 L136.19,385.46 L135.38,385.60 L134.57,385.74 L133.76,385.88 L132.95,386.00 L132.14,386.12 L131.33,386.24 L130.52,386.34 L129.71,386.44 L128.91,386.53 L128.11,386.62 L127.31,386.70 L126.52,386.77 L125.73,386.84 L124.95,386.90 L124.17,386.95 L123.40,386.99 L122.64,387.03 L121.88,387.06 L121.14,387.09 L120.40,387.11 L119.67,387.12 L118.95,387.13 L118.24,387.13 L117.54,387.12 L116.85,387.11 L116.18,387.10 L115.51,387.07 L114.86,387.05 L114.23,387.01 L113.60,386.97 L112.99,386.93 L112.40,386.88 L111.82,386.83 L111.25,386.77 L110.71,386.70 L110.17,386.63 L109.66,386.56 L109.16,386.48 L108.68,386.40 L108.21,386.31 L107.77,386.23 L107.34,386.13 L106.93,386.03 L106.54,385.93 L106.17,385.83 L105.82,385.72 L105.49,385.61 L105.17,385.50 L104.88,385.39 L104.61,385.27 L104.36,385.15 L104.13,385.03 L103.92,384.90 L103.73,384.78 L103.57,384.65 L103.42,384.52 L103.30,384.39 L103.19,384.26 L103.11,384.13 L103.05,384.00 L103.02,383.86 L103.00,383.73 L103.01,383.62" fill="none" stroke="#111" stroke-width="7.0"/>
<path d="M163.49,368.62 L163.49,369.37 L163.46,369.75 L163.40,370.13 L163.33,370.52 L163.23,370.90 L163.11,371.28 L162.97,371.65 L162.81,372.03 L162.63,372.41 L162.43,372.78 L162.20,373.15 L161.96,373.52 L161.69,373.89 L161.40,374.26 L161.10,374.62 L160.77,374.98 L160.42,375.34 L160.06,375.70 L159.67,376.05 L159.27,376.40 L158.84,376.74 L158.40,377.08 L157.94,377.42 L157.47,377.75 L156.97,378.08 L156.46,378.41 L155.93,378.73 L155.39,379.04 L154.83,379.36 L154.25,379.66 L153.66,379.96 L153.05,380.26 L152.43,380.55 L151.80,380.84 L151.15,381.12 L150.49,381.40 L149.82,381.67 L149.14,381.93 L148.44,382.19 L147.74,382.44 L147.02,382.69 L146.29,382.93 L145.56,383.16 L144.81,383.39 L144.06,383.61 L143.30,383.82 L142.53,384.03 L141.75,384.23 L140.97,384.43 L140.18,384.62 L139.39,384.80 L138.60,384.97 L137.80,385.14 L136.99,385.30 L136.19,385.46 L135.38,385.60 L134.57,385.74 L133.76,385.88 L132.95,386.00 L132.14,386.12 L131.33,386.24 L130.52,386.34 L129.71,386.44 L128.91,386.53 L128.11,386.62 L127.31,386.70 L126.52,386.77 L125.73,386.84 L124.95,386.90 L124.17,386.95 L123.40,386.99 L122.64,387.03 L121.88,387.06 L121.14,387.09 L120.40,387.11 L119.67,387.12 L118.95,387.13 L118.24,387.13 L117.54,387.12 L116.85,387.11 L116.18,387.10 L115.51,387.07 L114.86,387.05 L114.23,387.01 L113.60,386.97 L112.99,386.93 L112.40,386.88 L111.82,386.83 L111.25,386.77 L110.71,386.70 L110.17,386.63 L109.66,386.56 L109.16,386.48 L108.68,386.40 L108.21,386.31 L107.77,386.23 L107.34,386.13 L106.93,386.03 L106.54,385.93 L106.17,385.83 L105.82,385.72 L105.49,385.61 L105.17,385.50 L104.88,385.39 L104.61,385.27 L104.36,385.15 L104.13,385.03 L103.92,384.90 L103.73,384.78 L103.57,384.65 L103.42,384.52 L103.30,384.39 L103.19,384.26 L103.11,384.13 L103.05,384.00 L103.02,383.86 L103.00,383.73 L103.01,383.62 L103.08,383.42" fill="none" stroke="#fff" stroke-width="4.0"/>
<path d="M163.50,402.22 L163.47,402.60 L163.43,402.97 L163.36,403.35 L163.27,403.73 L163.16,404.11 L163.03,404.49 L162.88,404.86 L162.71,405.23 L162.51,405.61 L162.29,405.98 L162.06,406.34 L161.80,406.71 L161.52,407.08 L161.22,407.44 L160.90,407.80 L160.56,408.15 L160.21,408.51 L159.83,408.86 L159.43,409.20 L159.02,409.55 L158.58,409.88 L158.13,410.22 L157.66,410.55 L157.17,410.88 L156.67,411.20 L156.15,411.52 L155.61,411.84 L155.05,412.15 L154.48,412.45 L153.90,412.75 L153.30,413.05 L152.69,413.34 L152.06,413.62 L151.42,413.90 L150.76,414.18 L150.09,414.44 L149.41,414.71 L148.72,414.96 L148.02,415.21 L147.31,415.46 L146.58,415.69 L145.85,415.93 L145.11,416.15 L144.36,416.37 L143.60,416.58 L142.84,416.79 L142.06,416.99 L141.29,417.18 L140.50,417.37 L139.71,417.54 L138.92,417.72 L138.12,417.88 L137.32,418.04 L136.51,418.19 L135.70,418.34 L134.90,418.47 L134.09,418.61 L133.27,418.73 L132.46,418.85 L131.65,418.96 L130.84,419.06 L130.04,419.15 L129.23,419.24 L128.43,419.32 L127.63,419.40 L126.84,419.47 L126.05,419.53 L125.26,419.58 L124.48,419.63 L123.71,419.67 L122.94,419.71 L122.19,419.73 L121.43,419.76 L120.69,419.77 L119.96,419.78 L119.24,419.78 L118.52,419.78 L117.82,419.77 L117.13,419.75 L116.45,419.73 L115.78,419.70 L115.12,419.67 L114.48,419.63 L113.85,419.58 L113.24,419.53 L112.64,419.48 L112.05,419.41 L111.48,419.35 L110.92,419.28 L110.39,419.20 L109.86,419.12 L109.36,419.04 L108.87,418.95 L108.40,418.86 L107.94,418.76 L107.51,418.66 L107.09,418.55 L106.69,418.45 L106.32,418.33 L105.96,418.22 L105.62,418.10 L105.30,417.98 L105.00,417.86 L104.72,417.73 L104.46,417.60 L104.22,417.47 L104.00,417.34 L103.81,417.21 L103.63,417.07 L103.48,416.93 L103.34,416.80 L103.23,416.66 L103.14,416.51 L103.08,416.37 L103.03,416.23 L103.00,416.09 L103.00,415.96" fill="none" stroke="#111" stroke-width="7.0"/>
<path d="M163.48,401.40 L163.50,402.22 L163.47,402.60 L163.43,402.97 L163.36,403.35 L163.27,403.73 L163.16,404.11 L163.03,404.49 L162.88,404.86 L162.71,405.23 L162.51,405.61 L162.29,405.98 L162.06,406.34 L161.80,406.71 L161.52,407.08 L161.22,407.44 L160.90,407.80 L160.56,408.15 L160.21,408.51 L159.83,408.86 L159.43,409.20 L159.02,409.55 L158.58,409.88 L158.13,410.22 L157.66,410.55 L157.17,410.88 L156.67,411.20 L156.15,411.52 L155.61,411.84 L155.05,412.15 L154.48,412.45 L153.90,412.75 L153.30,413.05 L152.69,413.34 L152.06,413.62 L151.42,413.90 L150.76,414.18 L150.09,414.44 L149.41,414.71 L148.72,414.96 L148.02,415.21 L147.31,415.46 L146.58,415.69 L145.85,415.93 L145.11,416.15 L144.36,416.37 L143.60,416.58 L142.84,416.79 L142.06,416.99 L141.29,417.18 L140.50,417.37 L139.71,417.54 L138.92,417.72 L138.12,417.88 L137.32,418.04 L136.51,418.19 L135.70,418.34 L134.90,418.47 L134.09,418.61 L133.27,418.73 L132.46,418.85 L131.65,418.96 L130.84,419.06 L130.04,419.15 L129.23,419.24 L128.43,419.32 L127.63,419.40 L126.84,419.47 L126.05,419.53 L125.26,419.58 L124.48,419.63 L123.71,419.67 L122.94,419.71 L122.19,419.73 L121.43,419.76 L120.69,419.77 L119.96,419.78 L119.24,419.78 L118.52,419.78 L117.82,419.77 L117.13,419.75 L116.45,419.73 L115.78,419.70 L115.12,419.67 L114.48,419.63 L113.85,419.58 L113.24,419.53 L112.64,419.48 L112.05,419.41 L111.48,419.35 L110.92,419.28 L110.39,419.20 L109.86,419.12 L109.36,419.04 L108.87,418.95 L108.40,418.86 L107.94,418.76 L107.51,418.66 L107.09,418.55 L106.69,418.45 L106.32,418.33 L105.96,418.22 L105.62,418.10 L105.30,417.98 L105.00,417.86 L104.72,417.73 L104.46,417.60 L104.22,417.47 L104.00,417.34 L103.81,417.21 L103.63,417.07 L103.48,416.93 L103.34,416.80 L103.23,416.66 L103.14,416.51 L103.08,416.37 L103.03,416.23 L103.00,416.09 L103.00,415.96 L103.06,415.74" fill="none" stroke="#fff" stroke-width="4.0"/>
<path d="M163.50,433.97 L163.49,434.37 L163.45,434.77 L163.39,435.17 L163.31,435.57 L163.21,435.97 L163.09,436.37 L162.94,436.76 L162.78,437.16 L162.59,437.55 L162.38,437.94 L162.15,438.33 L161.91,438.72 L161.64,439.11 L161.34,439.49 L161.03,439.87 L160.70,440.25 L160.35,440.63 L159.98,441.00 L159.59,441.37 L159.19,441.73 L158.76,442.10 L158.31,442.45 L157.85,442.81 L157.37,443.16 L156.87,443.50 L156.36,443.85 L155.83,444.18 L155.28,444.51 L154.72,444.84 L154.14,445.16 L153.54,445.48 L152.93,445.79 L152.31,446.10 L151.68,446.40 L151.03,446.70 L150.36,446.99 L149.69,447.27 L149.00,447.55 L148.30,447.82 L147.60,448.09 L146.88,448.35 L146.15,448.60 L145.41,448.85 L144.66,449.09 L143.91,449.32 L143.15,449.55 L142.38,449.77 L141.60,449.99 L140.82,450.19 L140.03,450.39 L139.24,450.59 L138.44,450.77 L137.64,450.95 L136.84,451.13 L136.03,451.29 L135.22,451.45 L134.41,451.60 L133.60,451.75 L132.79,451.89 L131.98,452.02 L131.17,452.14 L130.36,452.25 L129.56,452.36 L128.75,452.47 L127.95,452.56 L127.16,452.65 L126.36,452.73 L125.58,452.80 L124.80,452.87 L124.02,452.93 L123.25,452.99 L122.49,453.03 L121.74,453.07 L120.99,453.11 L120.25,453.14 L119.53,453.16 L118.81,453.17 L118.10,453.18 L117.40,453.18 L116.72,453.18 L116.05,453.17 L115.39,453.15 L114.74,453.13 L114.10,453.10 L113.48,453.07 L112.88,453.03 L112.28,452.99 L111.71,452.94 L111.15,452.89 L110.60,452.83 L110.07,452.77 L109.56,452.70 L109.06,452.63 L108.58,452.55 L108.12,452.47 L107.68,452.39 L107.26,452.30 L106.85,452.21 L106.47,452.11 L106.10,452.02 L105.75,451.91 L105.42,451.81 L105.11,451.70 L104.83,451.59 L104.56,451.48 L104.31,451.36 L104.09,451.25 L103.88,451.13 L103.70,451.01 L103.54,450.89 L103.39,450.76 L103.27,450.64 L103.18,450.51 L103.10,450.39 L103.04,450.26 L103.01,450.13 L103.00,450.00 L103.01,449.88" fill="none" stroke="#111" stroke-width="7.0"/>
<path d="M163.46,433.14 L163.50,433.97 L163.49,434.37 L163.45,434.77 L163.39,435.17 L163.31,435.57 L163.21,435.97 L163.09,436.37 L162.94,436.76 L162.78,437.16 L162.59,437.55 L162.38,437.94 L162.15,438.33 L161.91,438.72 L161.64,439.11 L161.34,439.49 L161.03,439.87 L160.70,440.25 L160.35,440.63 L159.98,441.00 L159.59,441.37 L159.19,441.73 L158.76,442.10 L158.31,442.45 L157.85,442.81 L157.37,443.16 L156.87,443.50 L156.36,443.85 L155.83,444.18 L155.28,444.51 L154.72,444.84 L154.14,445.16 L153.54,445.48 L152.93,445.79 L152.31,446.10 L151.68,446.40 L151.03,446.70 L150.36,446.99 L149.69,447.27 L149.00,447.55 L148.30,447.82 L147.60,448.09 L146.88,448.35 L146.15,448.60 L145.41,448.85 L144.66,449.09 L143.91,449.32 L143.15,449.55 L142.38,449.77 L141.60,449.99 L140.82,450.19 L140.03,450.39 L139.24,450.59 L138.44,450.77 L137.64,450.95 L136.84,451.13 L136.03,451.29 L135.22,451.45 L134.41,451.60 L133.60,451.75 L132.79,451.89 L131.98,452.02 L131.17,452.14 L130.36,452.25 L129.56,452.36 L128.75,452.47 L127.95,452.56 L127.16,452.65 L126.36,452.73 L125.58,452.80 L124.80,452.87 L124.02,452.93 L123.25,452.99 L122.49,453.03 L121.74,453.07 L120.99,453.11 L120.25,453.14 L119.53,453.16 L118.81,453.17 L118.10,453.18 L117.40,453.18 L116.72,453.18 L116.05,453.17 L115.39,453.15 L114.74,453.13 L114.10,453.10 L113.48,453.07 L112.88,453.03 L112.28,452.99 L111.71,452.94 L111.15,452.89 L110.60,452.83 L110.07,452.77 L109.56,452.70 L109.06,452.63 L108.58,452.55 L108.12,452.47 L107.68,452.39 L107.26,452.30 L106.85,452.21 L106.47,452.11 L106.10,452.02 L105.75,451.91 L105.42,451.81 L105.11,451.70 L104.83,451.59 L104.56,451.48 L104.31,451.36 L104.09,451.25 L103.88,451.13 L103.70,451.01 L103.54,450.89 L103.39,450.76 L103.27,450.64 L103.18,450.51 L103.10,450.39 L103.04,450.26 L103.01,450.13 L103.00,450.00 L103.01,449.88 L103.10,449.63" fill="none" stroke="#fff" stroke-width="4.0"/>
<path d="M163.49,466.55 L163.47,466.89 L163.42,467.22 L163.35,467.55 L163.25,467.88 L163.14,468.21 L163.00,468.54 L162.85,468.87 L162.67,469.19 L162.47,469.52 L162.25,469.84 L162.01,470.16 L161.75,470.48 L161.46,470.80 L161.16,471.11 L160.84,471.42 L160.50,471.73 L160.13,472.03 L159.75,472.34 L159.35,472.63 L158.93,472.93 L158.50,473.22 L158.04,473.51 L157.57,473.79 L157.08,474.07 L156.57,474.34 L156.04,474.61 L155.50,474.88 L154.94,475.14 L154.37,475.39 L153.78,475.64 L153.18,475.89 L152.56,476.13 L151.93,476.36 L151.29,476.59 L150.63,476.81 L149.96,477.03 L149.28,477.24 L148.59,477.44 L147.88,477.64 L147.17,477.83 L146.44,478.02 L145.71,478.20 L144.96,478.37 L144.21,478.54 L143.45,478.70 L142.69,478.85 L141.91,479.00 L141.13,479.14 L140.35,479.27 L139.56,479.39 L138.76,479.51 L137.96,479.62 L137.16,479.73 L136.35,479.83 L135.55,479.92 L134.74,480.00 L133.93,480.08 L133.12,480.14 L132.30,480.21 L131.49,480.26 L130.69,480.31 L129.88,480.35 L129.07,480.38 L128.27,480.41 L127.48,480.42 L126.68,480.44 L125.89,480.44 L125.11,480.44 L124.33,480.43 L123.56,480.41 L122.79,480.39 L122.04,480.36 L121.29,480.32 L120.55,480.28 L119.82,480.23 L119.10,480.17 L118.38,480.11 L117.68,480.04 L116.99,479.97 L116.32,479.89 L115.65,479.80 L115.00,479.71 L114.36,479.61 L113.73,479.51 L113.12,479.40 L112.52,479.28 L111.94,479.16 L111.37,479.04 L110.82,478.91 L110.28,478.77 L109.76,478.63 L109.26,478.49 L108.77,478.34 L108.31,478.19 L107.86,478.03 L107.43,477.87 L107.01,477.70 L106.62,477.53 L106.24,477.36 L105.89,477.19 L105.55,477.01 L105.24,476.83 L104.94,476.64 L104.66,476.46 L104.41,476.27 L104.18,476.08 L103.96,475.88 L103.77,475.69 L103.60,475.49 L103.45,475.30 L103.32,475.10 L103.21,474.90 L103.13,474.69 L103.06,474.49 L103.02,474.29 L103.00,474.09 L103.00,473.87" fill="none" stroke="#111" stroke-width="7.0"/>
<path d="M163.48,465.80 L163.49,466.55 L163.47,466.89 L163.42,467.22 L163.35,467.55 L163.25,467.88 L163.14,468.21 L163.00,468.54 L162.85,468.87 L162.67,469.19 L162.47,469.52 L162.25,469.84 L162.01,470.16 L161.75,470.48 L161.46,470.80 L161.16,471.11 L160.84,471.42 L160.50,471.73 L160.13,472.03 L159.75,472.34 L159.35,472.63 L158.93,472.93 L158.50,473.22 L158.04,473.51 L157.57,473.79 L157.08,474.07 L156.57,474.34 L156.04,474.61 L155.50,474.88 L154.94,475.14 L154.37,475.39 L153.78,475.64 L153.18,475.89 L152.56,476.13 L151.93,476.36 L151.29,476.59 L150.63,476.81 L149.96,477.03 L149.28,477.24 L148.59,477.44 L147.88,477.64 L147.17,477.83 L146.44,478.02 L145.71,478.20 L144.96,478.37 L144.21,478.54 L143.45,478.70 L142.69,478.85 L141.91,479.00 L141.13,479.14 L140.35,479.27 L139.56,479.39 L138.76,479.51 L137.96,479.62 L137.16,479.73 L136.35,479.83 L135.55,479.92 L134.74,480.00 L133.93,480.08 L133.12,480.14 L132.30,480.21 L131.49,480.26 L130.69,480.31 L129.88,480.35 L129.07,480.38 L128.27,480.41 L127.48,480.42 L126.68,480.44 L125.89,480.44 L125.11,480.44 L124.33,480.43 L123.56,480.41 L122.79,480.39 L122.04,480.36 L121.29,480.32 L120.55,480.28 L119.82,480.23 L119.10,480.17 L118.38,480.11 L117.68,480.04 L116.99,479.97 L116.32,479.89 L115.65,479.80 L115.00,479.71 L114.36,479.61 L113.73,479.51 L113.12,479.40 L112.52,479.28 L111.94,479.16 L111.37,479.04 L110.82,478.91 L110.28,478.77 L109.76,478.63 L109.26,478.49 L108.77,478.34 L108.31,478.19 L107.86,478.03 L107.43,477.87 L107.01,477.70 L106.62,477.53 L106.24,477.36 L105.89,477.19 L105.55,477.01 L105.24,476.83 L104.94,476.64 L104.66,476.46 L104.41,476.27 L104.18,476.08 L103.96,475.88 L103.77,475.69 L103.60,475.49 L103.45,475.30 L103.32,475.10 L103.21,474.90 L103.13,474.69 L103.06,474.49 L103.02,474.29 L103.00,474.09 L103.00,473.87 L103.07,473.39" fill="none" stroke="#fff" stroke-width="4.0"/>
<path d="M163.50,477.61 L163.48,477.91 L163.44,478.21 L163.38,478.52 L163.29,478.82 L163.19,479.12 L163.06,479.41 L162.91,479.71 L162.74,480.01 L162.55,480.30 L162.34,480.60 L162.11,480.89 L161.85,481.18 L161.58,481.46 L161.29,481.75 L160.97,482.03 L160.64,482.31 L160.28,482.58 L159.91,482.85 L159.52,483.12 L159.10,483.39 L158.67,483.65 L158.23,483.91 L157.76,484.16 L157.27,484.41 L156.77,484.66 L156.26,484.90 L155.72,485.13 L155.17,485.36 L154.60,485.59 L154.02,485.81 L153.42,486.02 L152.81,486.23 L152.19,486.44 L151.55,486.64 L150.90,486.83 L150.23,487.02 L149.55,487.20 L148.87,487.38 L148.17,487.54 L147.45,487.71 L146.73,487.86 L146.00,488.01 L145.26,488.16" fill="none" stroke="#111" stroke-width="7.0"/>
<path d="M163.47,477.01 L163.50,477.61 L163.48,477.91 L163.44,478.21 L163.38,478.52 L163.29,478.82 L163.19,479.12 L163.06,479.41 L162.91,479.71 L162.74,480.01 L162.55,480.30 L162.34,480.60 L162.11,480.89 L161.85,481.18 L161.58,481.46 L161.29,481.75 L160.97,482.03 L160.64,482.31 L160.28,482.58 L159.91,482.85 L159.52,483.12 L159.10,483.39 L158.67,483.65 L158.23,483.91 L157.76,484.16 L157.27,484.41 L156.77,484.66 L156.26,484.90 L155.72,485.13 L155.17,485.36 L154.60,485.59 L154.02,485.81 L153.42,486.02 L152.81,486.23 L152.19,486.44 L151.55,486.64 L150.90,486.83 L150.23,487.02 L149.55,487.20 L148.87,487.38 L148.17,487.54 L147.45,487.71 L146.73,487.86 L146.00,488.01 L145.26,488.16 L145.26,488.16" fill="none" stroke="#fff" stroke-width="4.0"/>
<path d="M140.77,322.49 L141.56,322.59 L142.33,322.69 L143.10,322.80 L143.87,322.91 L144.62,323.03 L145.37,323.16 L146.11,323.29 L146.84,323.43 L147.56,323.58 L148.26,323.73 L148.96,323.88 L149.65,324.05 L150.33,324.21 L150.99,324.39 L151.64,324.57 L152.28,324.75 L152.90,324.94 L153.51,325.13 L154.10,325.33 L154.68,325.54 L155.25,325.75 L155.80,325.96 L156.33,326.18 L156.84,326.40 L157.34,326.63 L157.83,326.86 L158.29,327.10 L158.74,327.34 L159.16,327.58 L159.57,327.82 L159.96,328.07 L160.33,328.32 L160.68,328.58 L161.02,328.84 L161.33,329.10 L161.62,329.36 L161.89,329.63 L162.14,329.90 L162.37,330.17 L162.58,330.44 L162.77,330.71 L162.93,330.99 L163.08,331.26 L163.20,331.54 L163.31,331.82 L163.39,332.10 L163.45,332.38 L163.48,332.66 L163.50,332.94 L163.49,333.20" fill="none" stroke="#111" stroke-width="7.0"/>
<path d="M140.77,322.49 L140.77,322.49 L141.56,322.59 L142.33,322.69 L143.10,322.80 L143.87,322.91 L144.62,323.03 L145.37,323.16 L146.11,323.29 L146.84,323.43 L147.56,323.58 L148.26,323.73 L148.96,323.88 L149.65,324.05 L150.33,324.21 L150.99,324.39 L151.64,324.57 L152.28,324.75 L152.90,324.94 L153.51,325.13 L154.10,325.33 L154.68,325.54 L155.25,325.75 L155.80,325.96 L156.33,326.18 L156.84,326.40 L157.34,326.63 L157.83,326.86 L158.29,327.10 L158.74,327.34 L159.16,327.58 L159.57,327.82 L159.96,328.07 L160.33,328.32 L160.68,328.58 L161.02,328.84 L161.33,329.10 L161.62,329.36 L161.89,329.63 L162.14,329.90 L162.37,330.17 L162.58,330.44 L162.77,330.71 L162.93,330.99 L163.08,331.26 L163.20,331.54 L163.31,331.82 L163.39,332.10 L163.45,332.38 L163.48,332.66 L163.50,332.94 L163.49,333.20 L163.42,333.71" fill="none" stroke="#fff" stroke-width="4.0"/>
<path d="M140.36,325.67 L141.19,319.32" stroke="#111" stroke-width="1.4"/>
<path d="M145.91,491.29 L144.62,485.02" stroke="#111" stroke-width="1.4"/>
<line x1="51.90" y1="377.00" x2="93.85" y2="406.31" stroke="#111" stroke-width="1.3"/>
<path d="M100.00,410.60 L89.98,408.36 L94.45,401.96 Z" fill="#111"/>
<path d="M97.7,521.6 C97,514 103,512.5 112,512 L126,509.5 Q127,505 131,505 L143.8,505.5 Q146,506 146,511 L156,515.5 Q163,515 164,520 L164.5,527 Q163,533 156,533 Q145,537 130,536 Q110,535 103,530 Q97,527 97.7,521.6 Z" fill="#fafafa" stroke="#111" stroke-width="1.6"/>
<path d="M101,516 Q98,523 104,529 L109,530 Q104,523 108,515 Z" fill="#bdbdbd"/>
<path d="M158,517 Q163,523 159,531 L155,530 Q158,524 155,517 Z" fill="#bdbdbd"/>
<path d="M124,533 Q135,535.5 146,532.5 L146,534.5 Q135,537 124,535 Z" fill="#aaa"/>
<path d="M127,509.5 L146,511.5" stroke="#666" stroke-width="0.8"/>
<ellipse cx="132.00" cy="522.50" rx="25.00" ry="9.30" fill="none" stroke="#333" stroke-width="1.0"/>
<ellipse cx="131.80" cy="523.00" rx="22.40" ry="7.50" fill="#fff" stroke="#111" stroke-width="1.7"/>
<path d="M350.30,284.50 L350.30,288.60 A15.00,6.30 0 0 0 380.30,288.60 L380.30,284.50 A15.00,6.30 0 0 0 350.30,284.50 Z" fill="#fff" stroke="#111" stroke-width="1.4"/>
<ellipse cx="365.30" cy="284.50" rx="15.00" ry="6.30" fill="#fff" stroke="#111" stroke-width="1.4"/>
<ellipse cx="365.30" cy="285.20" rx="4.00" ry="1.80" fill="none" stroke="#111" stroke-width="0.8"/>
<path d="M346.30,345.00 L346.30,353.30 A19.00,8.00 0 0 0 384.30,353.30 L384.30,345.00 A19.00,8.00 0 0 0 346.30,345.00 Z" fill="#e2e2e2" stroke="#111" stroke-width="1.5"/>
<ellipse cx="365.30" cy="345.00" rx="19.00" ry="8.00" fill="#e2e2e2" stroke="#111" stroke-width="1.5"/>
<path d="M346.80,347.00 A18.50,6.50 0 0 0 383.80,347.00" fill="none" stroke="#999" stroke-width="0.7"/>
<path d="M346.80,350.00 A18.50,6.50 0 0 0 383.80,350.00" fill="none" stroke="#999" stroke-width="0.7"/>
<path d="M346.80,353.00 A18.50,6.50 0 0 0 383.80,353.00" fill="none" stroke="#999" stroke-width="0.7"/>
<path d="M343.60,337.00 L343.60,340.00 A21.70,8.50 0 0 0 387.00,340.00 L387.00,337.00 A21.70,8.50 0 0 0 343.60,337.00 Z" fill="#fff" stroke="#111" stroke-width="1.4"/>
<ellipse cx="365.30" cy="337.00" rx="21.70" ry="8.50" fill="#fff" stroke="#111" stroke-width="1.4"/>
<path d="M346.30,312.00 L346.30,336.00 A19.00,8.00 0 0 0 384.30,336.00 L384.30,312.00 A19.00,8.00 0 0 0 346.30,312.00 Z" fill="#fff" stroke="#111" stroke-width="1.4"/>
<ellipse cx="365.30" cy="312.00" rx="19.00" ry="8.00" fill="#fff" stroke="#111" stroke-width="1.4"/>
<ellipse cx="365.30" cy="312.50" rx="15.00" ry="5.50" fill="none" stroke="#888" stroke-width="0.6"/>
<ellipse cx="365.50" cy="311.20" rx="3.60" ry="2.10" fill="#333" stroke="#111" stroke-width="0.6"/>
<path d="M343.80,380.50 L343.80,416.80 A22.10,8.70 0 0 0 388.00,416.80 L388.00,380.50 A22.10,8.70 0 0 0 343.80,380.50 Z" fill="#fff" stroke="#111" stroke-width="1.5"/>
<ellipse cx="365.90" cy="380.50" rx="22.10" ry="8.70" fill="#fff" stroke="#111" stroke-width="1.5"/>
<ellipse cx="365.90" cy="382.00" rx="18.80" ry="6.50" fill="none" stroke="#111" stroke-width="1.6"/>
<path d="M349.90,383.00 A16.00,4.50 0 0 0 381.90,383.00" fill="none" stroke="#888" stroke-width="0.7"/>
<path d="M349.40,441.50 L349.40,445.00 A15.80,6.50 0 0 0 381.00,445.00 L381.00,441.50 A15.80,6.50 0 0 0 349.40,441.50 Z" fill="#fff" stroke="#111" stroke-width="1.4"/>
<ellipse cx="365.20" cy="441.50" rx="15.80" ry="6.50" fill="#fff" stroke="#111" stroke-width="1.4"/>
<ellipse cx="365.20" cy="441.50" rx="4.00" ry="1.90" fill="#bbb" stroke="#111" stroke-width="0.9"/>
<path d="M349.8,482 L356.5,497.5 Q365.3,503.5 374,497.5 L380.6,482 Z" fill="#d8d8d8" stroke="#111" stroke-width="1.5"/>
<path d="M352.8,488.5 Q365.3,493.0 377.8,488.5" fill="none" stroke="#222" stroke-width="1.3"/>
<path d="M354.5,492.5 Q365.3,497.0 376.1,492.5" fill="none" stroke="#222" stroke-width="1.3"/>
<path d="M356.1,496.2 Q365.3,500.7 374.5,496.2" fill="none" stroke="#222" stroke-width="1.3"/>
<path d="M347.60,468.50 L347.60,480.00 A17.40,7.30 0 0 0 382.40,480.00 L382.40,468.50 A17.40,7.30 0 0 0 347.60,468.50 Z" fill="#fff" stroke="#111" stroke-width="1.6"/>
<ellipse cx="365.00" cy="468.50" rx="17.40" ry="7.30" fill="#fff" stroke="#111" stroke-width="1.6"/>
<path d="M347.80,473.00 A17.20,6.80 0 0 0 382.20,473.00" fill="none" stroke="#888" stroke-width="0.8"/>
<ellipse cx="365.40" cy="468.30" rx="7.10" ry="3.40" fill="#999" stroke="#111" stroke-width="1.0"/>
<ellipse cx="365.40" cy="467.60" rx="5.20" ry="2.20" fill="#bbb" stroke="#111" stroke-width="0"/>
<path d="M361.5,551.5 L361.5,514 Q365.3,510 369.1,514 L369.1,551.5 Z" fill="#fff" stroke="#222" stroke-width="1.2"/>
<line x1="362" y1="515" x2="368.6" y2="515" stroke="#777" stroke-width="0.8"/>
<line x1="362" y1="517" x2="368.6" y2="517" stroke="#777" stroke-width="0.8"/>
<line x1="362" y1="519" x2="368.6" y2="519" stroke="#777" stroke-width="0.8"/>
<line x1="362" y1="521" x2="368.6" y2="521" stroke="#777" stroke-width="0.8"/>
<line x1="362" y1="523" x2="368.6" y2="523" stroke="#777" stroke-width="0.8"/>
<line x1="362" y1="525" x2="368.6" y2="525" stroke="#777" stroke-width="0.8"/>
<line x1="362" y1="527" x2="368.6" y2="527" stroke="#777" stroke-width="0.8"/>
<path d="M359,618 L359,553 Q365,549 371,553 L371,618" fill="#fff" stroke="#222" stroke-width="1.2"/>
</svg>
<div id="list">
<div class="l"><span class="n">1.</span><span class="b">SELBSTSICHERNDE MUTTER</span></div>
<div class="l"><span class="b">10 x 1,25 mm</span></div>
<div class="l"><span class="b">29 Nm (3,0 kpm)</span></div>
<div class="l"><span class="i">Auswechseln</span></div>
<div class="l"><span class="n">2.</span><span class="b">DÄMPFERBEFESTIGUNGSGUMMI</span></div>
<div class="l"><span class="i">Auf Beschädigung und Verschleiß</span></div>
<div class="l"><span class="i">prüfen.</span></div>
<div class="l"><span class="n">3.</span><span class="b">DÄMPFERBEFESTIGUNGSHÜLSE</span></div>
<div class="l"><span class="n">4.</span><span class="b">DÄMPFERBEFESTIGUNGSSOCKEL</span></div>
<div class="l"><span class="n">5.</span><span class="b">DÄMPFERBEFESTIGUNGSGUMMI</span></div>
<div class="l"><span class="i">Auf Beschädigung und Verschleiß</span></div>
<div class="l"><span class="i">prüfen.</span></div>
<div class="l"><span class="n">6.</span><span class="b">FEDERBEFESTIGUNGSDÄMPFUNG</span></div>
<div class="l"><span class="i">Auf Verformung und Beschädigung</span></div>
<div class="l"><span class="i">prüfen.</span></div>
<div class="l"><span class="n">7.</span><span class="b">DÄMPFERFEDER</span></div>
<div class="l"><span class="i">Auf geschwächte Kompression und</span></div>
<div class="l"><span class="i">Beschädigung prüfen.</span></div>
<div class="l"><span class="n">8.</span><span class="b">FEDERBEFESTIGUNGSDÄMPFUNG</span></div>
<div class="l"><span class="i">Auf Beschädigung und Verschleiß</span></div>
<div class="l"><span class="i">prüfen.</span></div>
<div class="l"><span class="n">9.</span><span class="b">STAUBABDECKUNGSPLATTE</span></div>
<div class="l"><span class="n">10.</span><span class="b">STAUBABDECKUNG</span></div>
<div class="l"><span class="i">Auf Verbiegung und Beschädigung</span></div>
<div class="l"><span class="i">prüfen.</span></div>
<div class="l"><span class="n">11.</span><span class="b">STAUBKAPPENENDE</span></div>
<div class="l"><span class="i">Auf Verformung und Beschädigung</span></div>
<div class="l"><span class="i">prüfen.</span></div>
<div class="l"><span class="n">12.</span><span class="b">EINFEDERUNGSANSCHLAGPLATTE</span></div>
<div class="l"><span class="n">13.</span><span class="b">EINFEDERUNGSANSCHLAG</span></div>
<div class="l"><span class="i">Auf Schwächung und Beschädigung</span></div>
<div class="l"><span class="i">prüfen.</span></div>
<div class="l"><span class="n">14.</span><span class="b">DÄMPFEREINHEIT</span></div>
</div>
</body></html>
